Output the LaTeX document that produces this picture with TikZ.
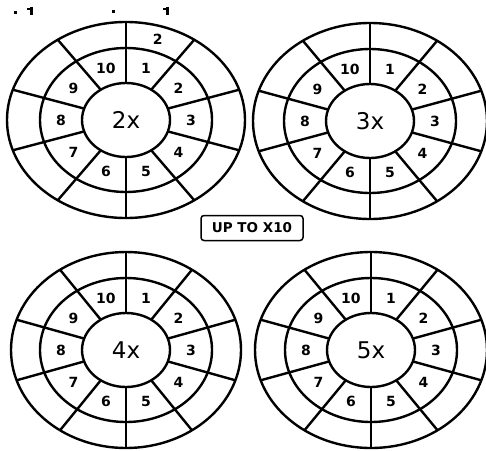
\documentclass[tikz,border=0pt]{standalone}
\usepackage{fontspec}
\setmainfont{DejaVu Sans}
\usetikzlibrary{calc}
\begin{document}
\begin{tikzpicture}[x=1pt,y=-1pt, line width=2.4pt,
  num/.style={font=\bfseries\fontsize{14}{15}\selectfont, inner sep=0pt},
  ctr/.style={font=\fontsize{23}{24}\selectfont, inner sep=0pt},
  btn/.style={draw, rounded corners=3pt, line width=1.5pt, font=\bfseries\fontsize{13.5}{14}\selectfont, minimum width=102pt, minimum height=25pt, inner sep=0pt}]
\useasboundingbox (0,0) rectangle (486,450);
\fill[white] (0,0) rectangle (486,450);
\newcommand\mywheel[5]{%
  \coordinate (#1) at (#2,#3);
  \draw (#1) ellipse [x radius=#4pt, y radius=98pt];
  \draw (#1) ellipse [x radius=86pt, y radius=72pt];
  \draw (#1) ellipse [x radius=44pt, y radius=37pt];
  \foreach \t in {-90,-55,-18,18,55,90,125,162,198,235}
    \draw ($(#1)+({44*cos(\t)},{37*sin(\t)})$) -- ($(#1)+({#4*cos(\t)},{98*sin(\t)})$);
  \foreach \k in {1,...,10}
    \node[num] (#1-\k) at ($(#1)+({65*cos(-72+36*(\k-1))},{54.5*sin(-72+36*(\k-1))})$) {\k};
  \node[ctr] (#1-c) at (#1) {#5};
}
\mywheel{tl}{126}{120}{119}{2x}
\mywheel{tr}{370}{121}{117}{3x}
\mywheel{bl}{126}{350}{115}{4x}
\mywheel{br}{371}{350}{116}{5x}
\node[num] (extra) at ($(tl)+({103*cos(-72)},{85*sin(-72)})$) {2};
\node[btn] (upto) at (252,228) {UP TO X10};
% cut-off marks at the top edge
\fill (14,11) rectangle (17,14);
\fill (30,7) rectangle (33,15);
\fill (27,8) rectangle (30,10);
\fill (112,10) rectangle (115,13);
\fill (166,7) rectangle (169,15);
\fill (163,8) rectangle (166,10);
\end{tikzpicture}
\end{document}
